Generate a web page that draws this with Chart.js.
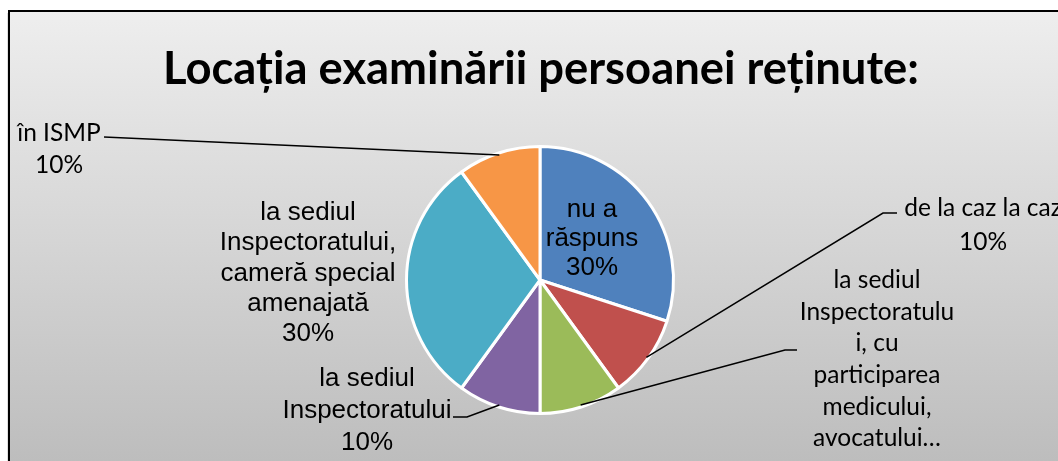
<!DOCTYPE html>
<html>
<head>
<meta charset="utf-8">
<script src="https://cdn.jsdelivr.net/npm/chart.js@4.4.0/dist/chart.umd.min.js"></script>
<style>
  html, body { margin: 0; padding: 0; background: #fff; overflow: hidden; }
  #wrap { width: 1058px; height: 461px; position: relative; }
</style>
</head>
<body>
<div id="wrap"><canvas id="pieChart" width="1058" height="461"></canvas></div>
<script>
// Chart data
const titleText = "Locația examinării persoanei reținute:"
const categories = [
  "nu a răspuns",
  "de la caz la caz",
  "la sediul Inspectoratului, cu participarea medicului, avocatului…",
  "la sediul Inspectoratului",
  "la sediul Inspectoratului, cameră special amenajată",
  "în ISMP",
]
const values = [30, 10, 10, 10, 30, 10]
const colors = ["#4F81BD", "#C0504D", "#9BBB59", "#8064A2", "#4BACC6", "#F79646"]

// Label placement (text is wrapped like the original, percent added from data)
const arialFont = "26px 'Liberation Sans', Arial, sans-serif"
const calibriFont = "24.5px Lato, 'Noto Sans', sans-serif"
const labelLayout = [
  { lines: ["nu a", "răspuns"], x: 592, y: 210, lh: 29, font: arialFont },
  { lines: ["de la caz la caz"], x: 983, y: 208, lh: 34, font: calibriFont, leader: [[897, 213], [883, 213]] },
  { lines: ["la sediul", "Inspectoratulu", "i, cu", "participarea", "medicului,", "avocatului…"], x: 877, y: 280, lh: 31.7, font: calibriFont, leader: [[797, 350], [785, 350]], noPct: true },
  { lines: ["la sediul", "Inspectoratului"], x: 367, y: 379, lh: 32, font: arialFont, leader: [[453, 417], [467, 417]] },
  { lines: ["la sediul", "Inspectoratului,", "cameră special", "amenajată"], x: 308, y: 213, lh: 30.3, font: arialFont },
  { lines: ["în ISMP"], x: 59, y: 133, lh: 32, font: calibriFont, leader: [[104, 137]] },
]

// Background panel with gradient and frame
const backgroundPanel = {
  id: "backgroundPanel",
  beforeDraw(chart) {
    const ctx = chart.ctx
    ctx.save()
    ctx.fillStyle = "#ffffff"
    ctx.fillRect(0, 0, chart.width, chart.height)
    const grad = ctx.createLinearGradient(0, 11, 0, chart.height)
    grad.addColorStop(0, "#EEEEEE")
    grad.addColorStop(1, "#BDBDBD")
    ctx.fillStyle = "rgba(0,0,0,0.12)"
    ctx.fillRect(7, 13, chart.width, chart.height)
    ctx.fillStyle = grad
    ctx.fillRect(9, 11, chart.width, chart.height)
    ctx.strokeStyle = "#000"
    ctx.lineWidth = 2
    ctx.beginPath()
    ctx.moveTo(9, chart.height + 5)
    ctx.lineTo(9, 11)
    ctx.lineTo(chart.width + 5, 11)
    ctx.stroke()
    ctx.restore()
  },
}

// Title and data labels with leader lines
const pieLabels = {
  id: "pieLabels",
  afterDatasetsDraw(chart) {
    const ctx = chart.ctx
    const arcs = chart.getDatasetMeta(0).data
    const total = values.reduce((a, b) => a + b, 0)
    ctx.save()

    ctx.fillStyle = "#000"
    ctx.font = "bold 46px Lato, 'Noto Sans', sans-serif"
    ctx.textAlign = "center"
    ctx.textBaseline = "alphabetic"
    ctx.fillText(titleText, 541, 84, 756)

    labelLayout.forEach((lay, i) => {
      const pct = Math.round((values[i] / total) * 100) + "%"
      const lines = lay.noPct ? lay.lines : lay.lines.concat(pct)
      if (lay.leader) {
        const p = arcs[i].getProps(["x", "y", "startAngle", "endAngle", "outerRadius"], true)
        const mid = (p.startAngle + p.endAngle) / 2
        const ex = p.x + Math.cos(mid) * (p.outerRadius - 2)
        const ey = p.y + Math.sin(mid) * (p.outerRadius - 2)
        ctx.strokeStyle = "#000"
        ctx.lineWidth = 1.5
        ctx.beginPath()
        ctx.moveTo(lay.leader[0][0], lay.leader[0][1])
        lay.leader.slice(1).forEach((pt) => ctx.lineTo(pt[0], pt[1]))
        ctx.lineTo(ex, ey)
        ctx.stroke()
      }
      ctx.font = lay.font
      ctx.fillStyle = "#000"
      ctx.textAlign = "center"
      ctx.textBaseline = "middle"
      lines.forEach((t, k) => ctx.fillText(t, lay.x, lay.y + k * lay.lh))
    })
    ctx.restore()
  },
}

new Chart(document.getElementById("pieChart"), {
  type: "pie",
  data: {
    labels: categories,
    datasets: [
      {
        data: values,
        backgroundColor: colors,
        borderColor: "#ffffff",
        borderWidth: 3,
      },
    ],
  },
  options: {
    responsive: false,
    animation: false,
    layout: {
      padding: { top: 145, bottom: 46, left: 405, right: 383 },
    },
    plugins: {
      legend: { display: false },
      tooltip: { enabled: false },
      title: { display: false },
    },
  },
  plugins: [backgroundPanel, pieLabels],
})
</script>
</body>
</html>
